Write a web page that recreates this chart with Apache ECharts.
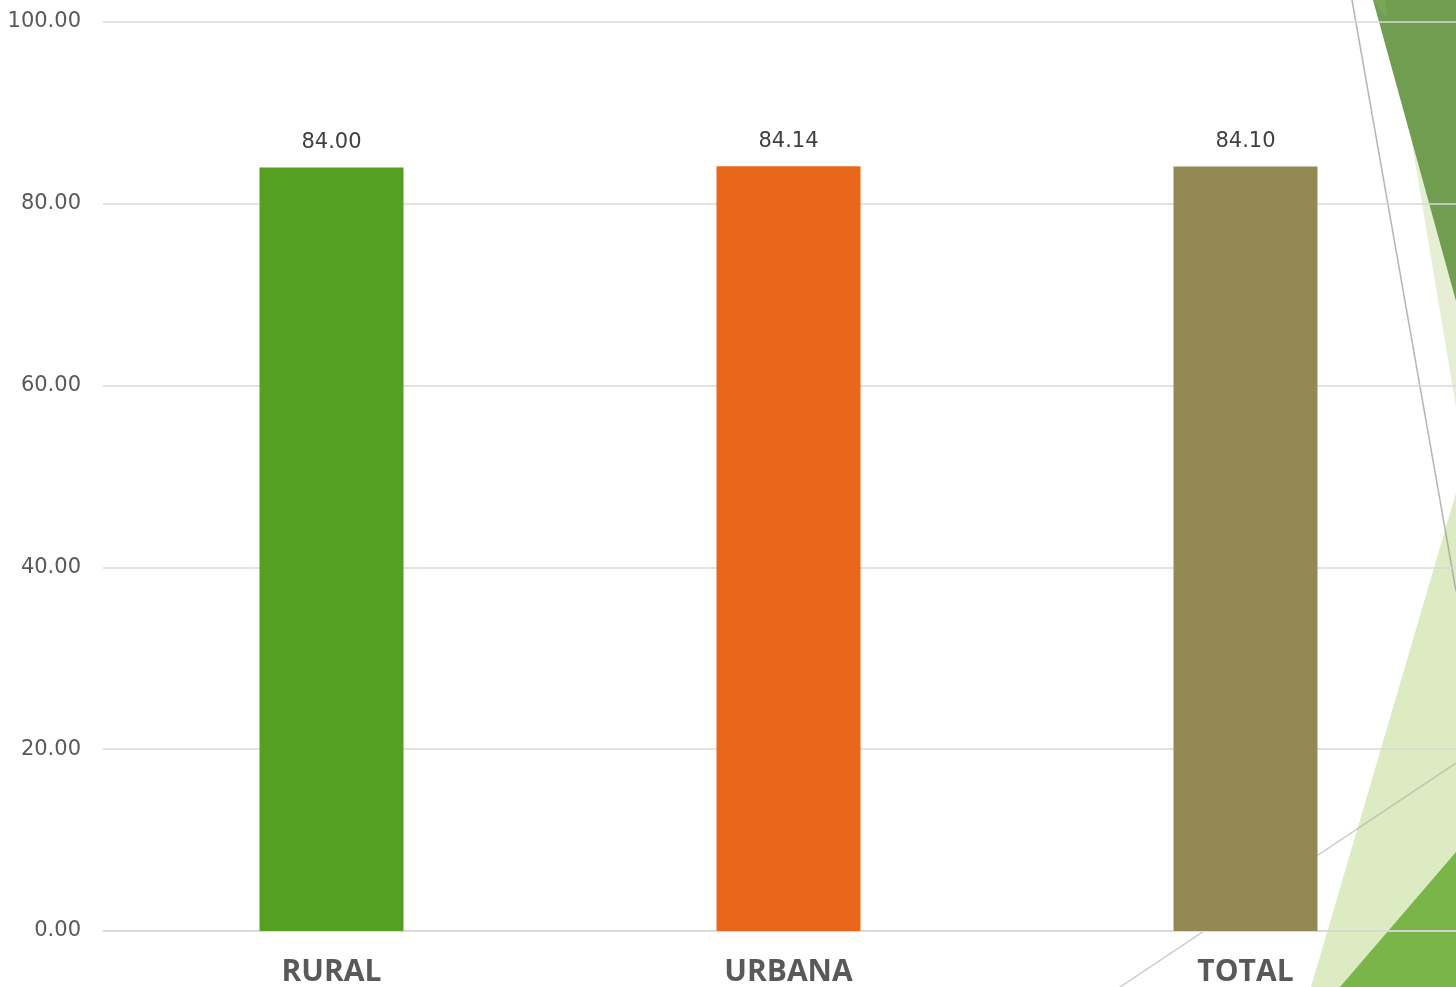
<!DOCTYPE html>
<html>
<head>
<meta charset="utf-8">
<script src="https://cdn.jsdelivr.net/npm/echarts@6/dist/echarts.min.js"></script>
<style>html,body{margin:0;padding:0;background:#fff;overflow:hidden;}#c{width:1456px;height:987px;}</style>
</head>
<body>
<div id="c"></div>
<script>
const categories = ['RURAL', 'URBANA', 'TOTAL'];
const values = [84.00, 84.14, 84.10];
const barColors = ['#55A021', '#E8671B', '#938955'];
const yTicks = { min: 0, max: 100, interval: 20 };

const chart = echarts.init(document.getElementById('c'), null, { renderer: 'canvas' });

const poly = (pts, fill, z) => ({ type: 'polygon', shape: { points: pts }, style: { fill: fill }, z: z, silent: true });
const line = (x1, y1, x2, y2, color, w) => ({ type: 'line', shape: { x1, y1, x2, y2 }, style: { stroke: color, lineWidth: w }, z: -1, silent: true });

chart.setOption({
  backgroundColor: '#ffffff',
  animation: false,
  graphic: {
    elements: [
      poly([[1388, 0], [1456, 0], [1456, 407]], '#e6efd3', -3),
      poly([[1373, 0], [1456, 0], [1456, 301]], '#719d50', -2),
      poly([[1373, 0], [1385, 0], [1388, 20]], '#7aa65a', -2),
      poly([[1456, 493], [1456, 987], [1311, 987]], '#dcebc2', -3),
      poly([[1456, 852], [1456, 987], [1340, 987]], '#7ab54a', -2),
      line(1352, 0, 1456, 591, 'rgba(150,150,150,0.7)', 1.5),
      line(1456, 763, 1120, 987, 'rgba(170,170,170,0.6)', 1.5)
    ]
  },
  grid: { left: 103, width: 1371, top: 22, height: 909, containLabel: false, outerBoundsMode: 'none' },
  xAxis: {
    type: 'category',
    data: categories,
    axisLine: { show: true, lineStyle: { color: '#d9d9d9', width: 1.5 } },
    axisTick: { show: false },
    axisLabel: {
      color: '#595959',
      fontFamily: "'Open Sans'",
      fontWeight: 'bold',
      fontSize: 30,
      margin: 26
    },
    z: 1
  },
  yAxis: {
    type: 'value',
    min: yTicks.min,
    max: yTicks.max,
    interval: yTicks.interval,
    axisLine: { show: false },
    axisTick: { show: false },
    splitLine: { lineStyle: { color: '#d9d9d9', width: 1.5 } },
    axisLabel: {
      color: '#595959',
      fontFamily: 'DejaVu Sans',
      fontSize: 21,
      margin: 22,
      padding: [3, 0, 0, 0],
      formatter: v => v.toFixed(2)
    },
    z: 1
  },
  series: [{
    type: 'bar',
    data: values.map((v, i) => ({ value: v, itemStyle: { color: barColors[i] } })),
    barWidth: 144,
    z: 3,
    label: {
      show: true,
      position: 'top',
      distance: 14,
      color: '#404040',
      fontFamily: 'DejaVu Sans',
      fontSize: 21,
      formatter: p => p.value.toFixed(2)
    }
  }]
});
</script>
</body>
</html>
